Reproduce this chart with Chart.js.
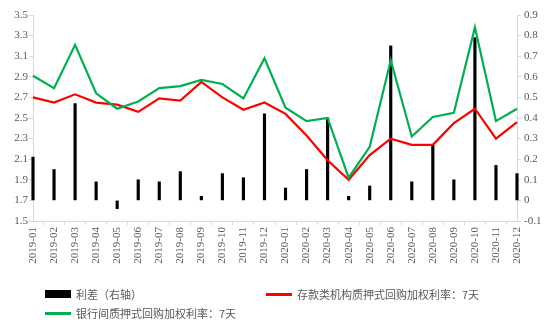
<!DOCTYPE html>
<html>
<head>
<meta charset="utf-8">
<script src="https://cdn.jsdelivr.net/npm/chart.js@4/dist/chart.umd.min.js"></script>
<style>
  body { margin: 0; background: #fff; }
  .wrap { position: relative; width: 554px; height: 332px; }
  .item {
    position: absolute; height: 16px; display: flex; align-items: center; white-space: nowrap;
    font-family: "Noto Sans CJK SC", sans-serif; font-size: 11px; color: #595959;
  }
  .swatch { display: inline-block; width: 26px; margin-right: 5px; }
</style>
</head>
<body>
<div class="wrap">
  <canvas id="rateChart" width="554" height="332"></canvas>
  <div class="item" style="left:45px; top:286px;"><span class="swatch" style="height:8px; background:#000;"></span>利差（右轴）</div>
  <div class="item" style="left:266px; top:286px;"><span class="swatch" style="height:3px; background:#ff0000;"></span>存款类机构质押式回购加权利率：7天</div>
  <div class="item" style="left:45px; top:305px;"><span class="swatch" style="height:3px; background:#00b050;"></span>银行间质押式回购加权利率：7天</div>
</div>
<script>
const months = [
  '2019-01', '2019-02', '2019-03', '2019-04', '2019-05', '2019-06',
  '2019-07', '2019-08', '2019-09', '2019-10', '2019-11', '2019-12',
  '2020-01', '2020-02', '2020-03', '2020-04', '2020-05', '2020-06',
  '2020-07', '2020-08', '2020-09', '2020-10', '2020-11', '2020-12'
];
// 银行间质押式回购加权利率：7天 (%)
const interbankRate = [2.91, 2.79, 3.21, 2.74, 2.59, 2.66, 2.79, 2.81, 2.87, 2.83, 2.69, 3.08,
                       2.60, 2.47, 2.50, 1.92, 2.22, 3.06, 2.32, 2.51, 2.55, 3.38, 2.47, 2.59];
// 存款类机构质押式回购加权利率：7天 (%)
const depositRate = [2.70, 2.65, 2.73, 2.65, 2.63, 2.56, 2.69, 2.67, 2.85, 2.70, 2.58, 2.65,
                     2.54, 2.33, 2.09, 1.90, 2.14, 2.30, 2.24, 2.24, 2.45, 2.59, 2.30, 2.46];
// 利差 (right axis)
const spread = [0.21, 0.15, 0.47, 0.09, -0.04, 0.10, 0.09, 0.14, 0.02, 0.13, 0.11, 0.42,
                0.06, 0.15, 0.40, 0.02, 0.07, 0.75, 0.09, 0.27, 0.10, 0.79, 0.17, 0.13];

const axisColor = '#d9d9d9';
const textColor = '#595959';
const tickFont = { family: '"Liberation Serif", serif', size: 11 };

const ctx = document.getElementById('rateChart').getContext('2d');
new Chart(ctx, {
  data: {
    labels: months,
    datasets: [
      {
        type: 'line',
        label: '存款类机构质押式回购加权利率：7天',
        data: depositRate,
        borderColor: '#ff0000',
        borderWidth: 2.2,
        pointRadius: 0,
        tension: 0,
        yAxisID: 'y',
        order: 1
      },
      {
        type: 'line',
        label: '银行间质押式回购加权利率：7天',
        data: interbankRate,
        borderColor: '#00b050',
        borderWidth: 2.2,
        pointRadius: 0,
        tension: 0,
        yAxisID: 'y',
        order: 0
      },
      {
        type: 'bar',
        label: '利差（右轴）',
        data: spread,
        backgroundColor: '#000',
        barThickness: 2.5,
        clip: false,
        yAxisID: 'y1',
        order: 2
      }
    ]
  },
  options: {
    responsive: false,
    animation: false,
    layout: { padding: { top: 15, left: 0, right: 0, bottom: 0 } },
    plugins: {
      legend: { display: false },
      tooltip: { enabled: false }
    },
    scales: {
      x: {
        offset: false,
        grid: { drawOnChartArea: false, color: axisColor, tickLength: 4 },
        border: { color: axisColor },
        ticks: {
          autoSkip: false, minRotation: 90, maxRotation: 90, padding: 2,
          color: textColor, font: tickFont
        },
        afterFit: scale => { scale.height = 111; }
      },
      y: {
        position: 'left',
        min: 1.5,
        max: 3.5,
        grid: { drawOnChartArea: false, color: axisColor, tickLength: 4 },
        border: { color: axisColor },
        ticks: {
          stepSize: 0.2, padding: 1, color: textColor, font: tickFont,
          callback: v => v.toFixed(1)
        },
        afterFit: scale => { scale.width = 33; }
      },
      y1: {
        position: 'right',
        min: -0.1,
        max: 0.9,
        grid: { drawOnChartArea: false, color: axisColor, tickLength: 4 },
        border: { color: axisColor },
        ticks: {
          stepSize: 0.1, padding: 3, color: textColor, font: tickFont,
          callback: v => Math.abs(v) < 1e-9 ? '0' : String(Math.round(v * 10) / 10)
        },
        afterFit: scale => { scale.width = 37; }
      }
    }
  }
});
</script>
</body>
</html>
